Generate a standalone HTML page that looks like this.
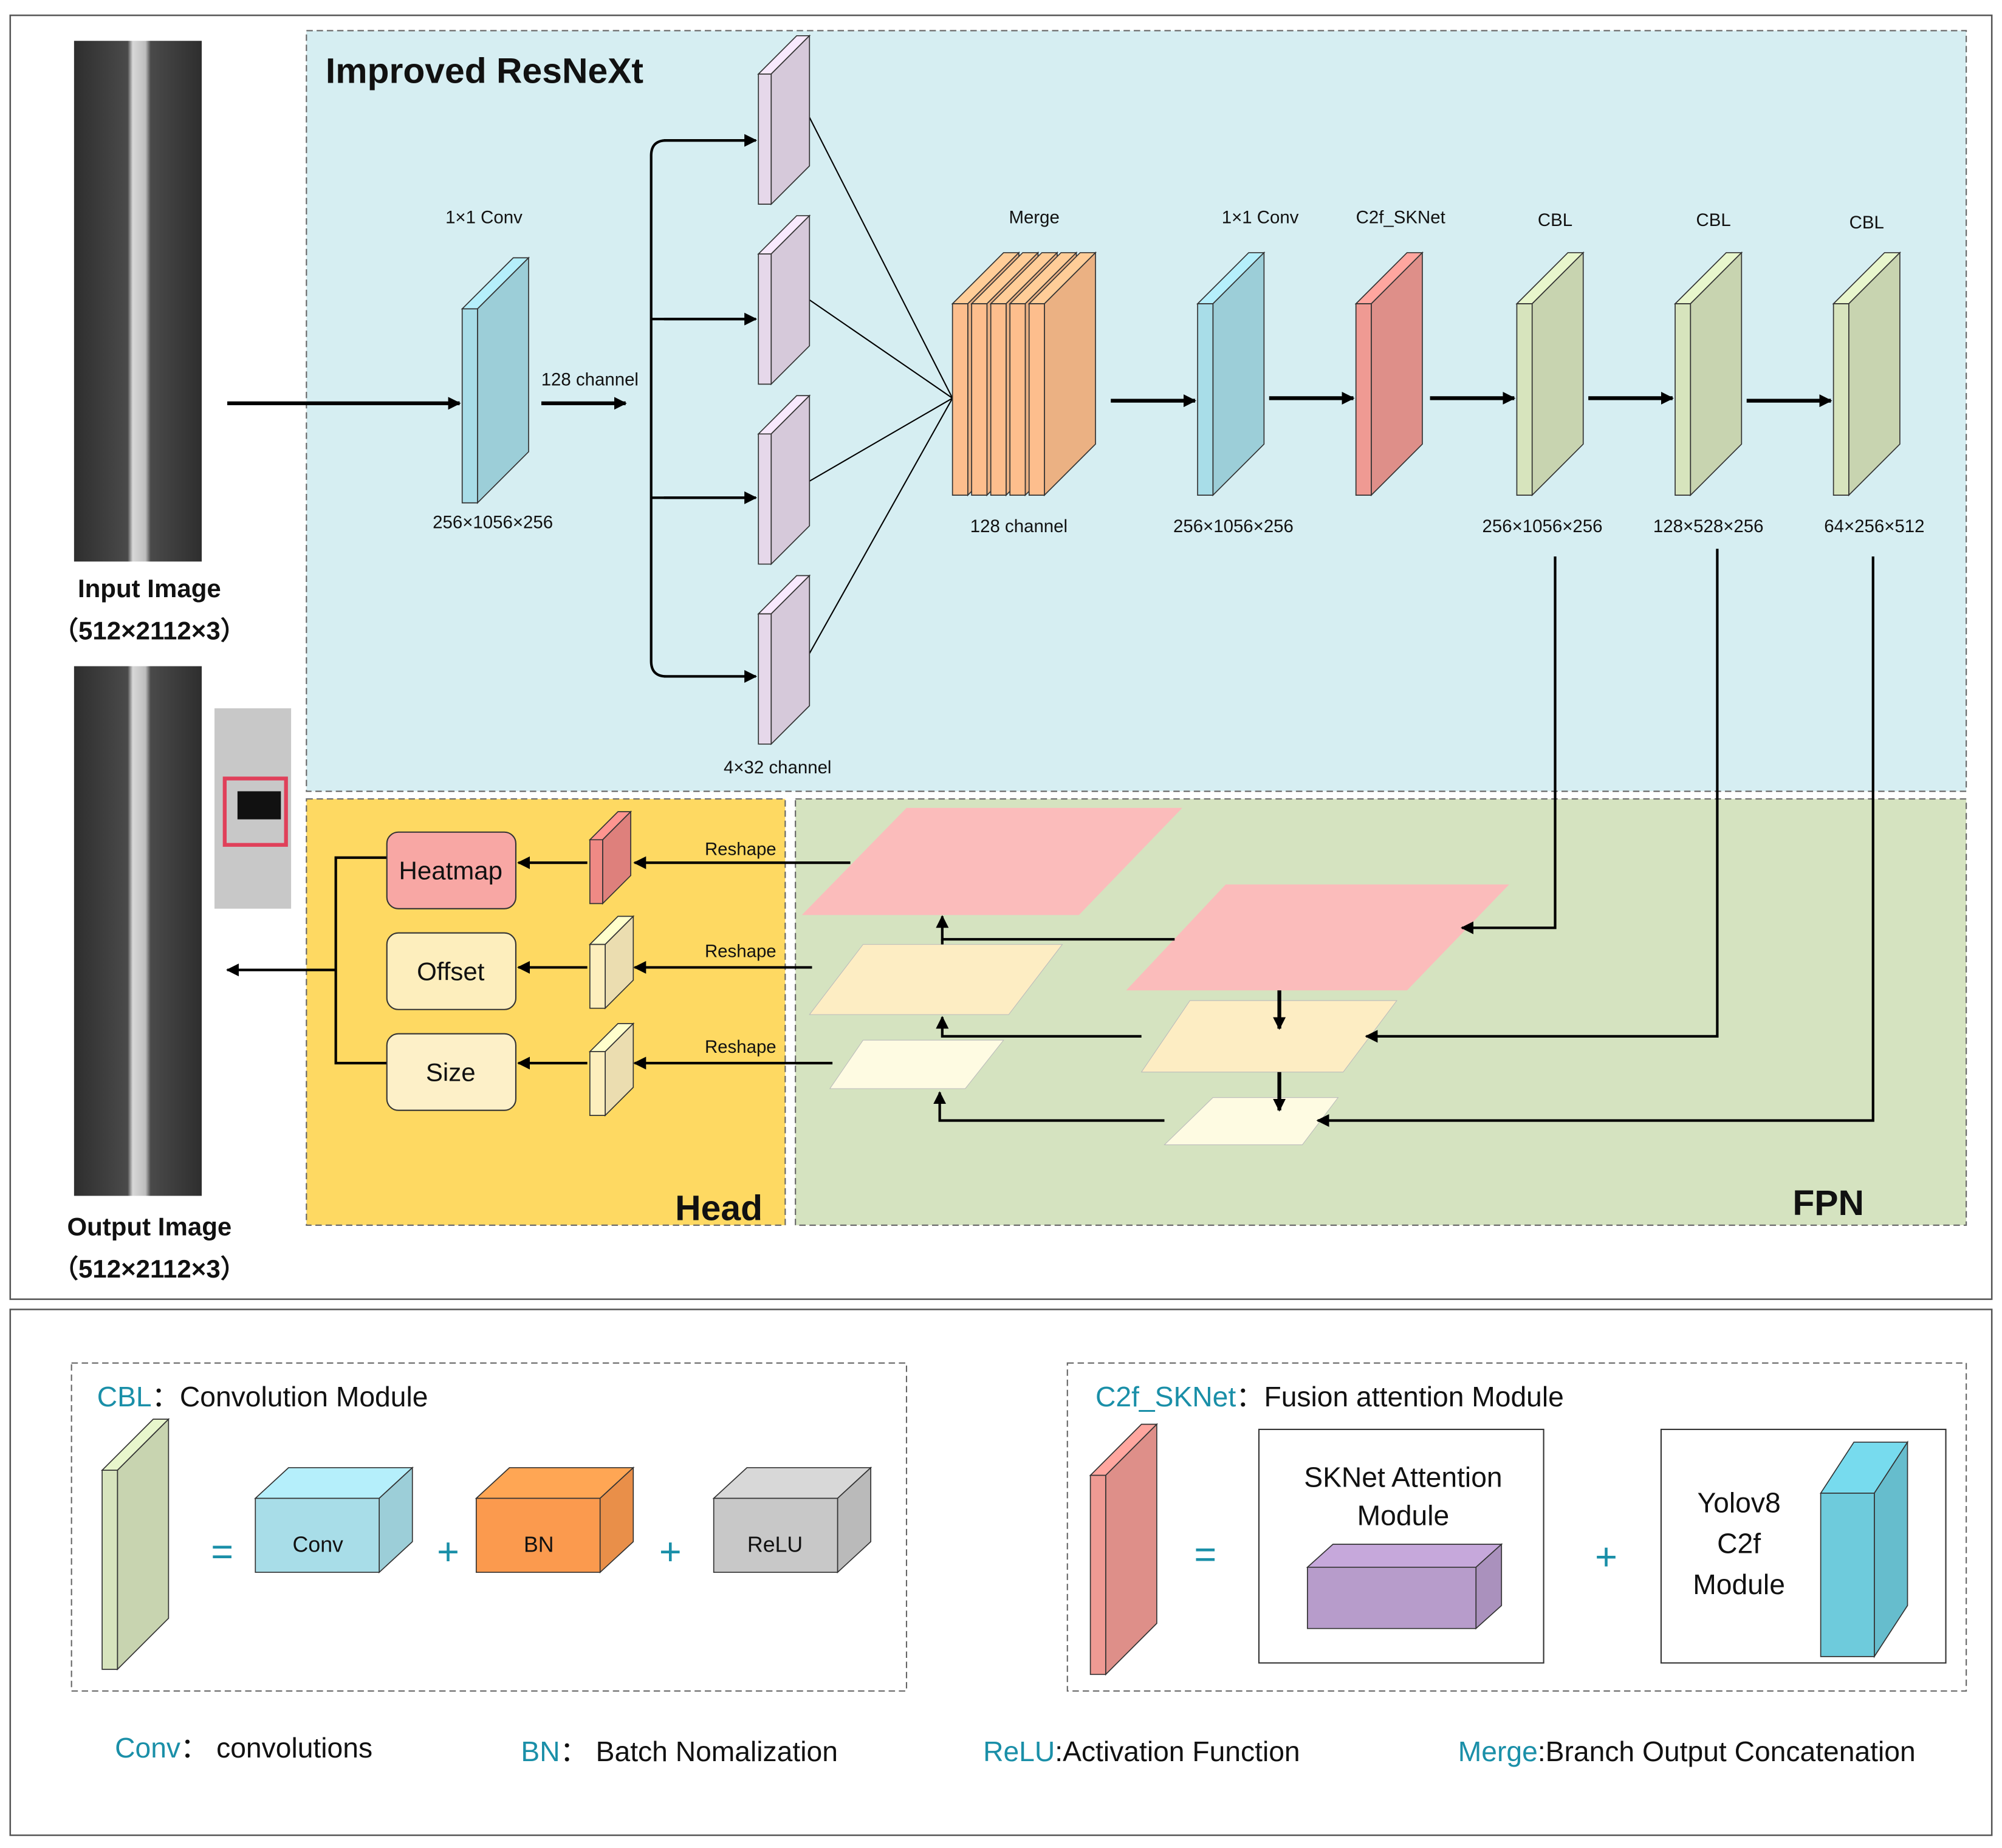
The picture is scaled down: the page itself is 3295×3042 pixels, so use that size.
<!DOCTYPE html>
<html><head><meta charset="utf-8"><style>
html,body{margin:0;padding:0;background:#fff}
svg{display:block}
text{font-family:"Liberation Sans","DejaVu Sans",sans-serif;fill:#111}
.s{font-size:14px}
.b{font-weight:bold}
.t{fill:#1a8fa8}
</style></head><body>
<svg id="sv" xmlns="http://www.w3.org/2000/svg" width="3295" height="3042" viewBox="0 0 1568 1448" preserveAspectRatio="none">
<defs>
<marker id="a" markerWidth="10" markerHeight="10" refX="9" refY="5" orient="auto" markerUnits="userSpaceOnUse"><path d="M0,0 L10,5 L0,10 z" fill="#000"/></marker>
<linearGradient id="rail" x1="0" x2="1"><stop offset="0" stop-color="#2e2e2e"/><stop offset="0.42" stop-color="#4a4a4a"/><stop offset="0.46" stop-color="#d8d8d8"/><stop offset="0.56" stop-color="#bdbdbd"/><stop offset="0.6" stop-color="#4a4a4a"/><stop offset="1" stop-color="#2e2e2e"/></linearGradient>
</defs>
<rect x="8" y="12" width="1552" height="1006" fill="#fff" stroke="#555" stroke-width="1.2"/>
<rect x="8" y="1026" width="1552" height="412" fill="#fff" stroke="#555" stroke-width="1.2"/>
<rect x="240" y="24" width="1300" height="596" fill="#d6eef2" stroke="#666" stroke-dasharray="5,3"/>
<rect x="240" y="626" width="375" height="334" fill="#fed962" stroke="#666" stroke-dasharray="5,3"/>
<rect x="623" y="626" width="917" height="334" fill="#d5e3c0" stroke="#666" stroke-dasharray="5,3"/>

<rect x="58" y="32" width="100" height="408" fill="url(#rail)"/>
<rect x="58" y="522" width="100" height="415" fill="url(#rail)"/>
<rect x="168" y="555" width="60" height="157" fill="#c8c8c8"/>
<rect x="186" y="620" width="34" height="22" fill="#111"/>
<rect x="176" y="610" width="48" height="52" fill="none" stroke="#e0405a" stroke-width="3"/>

<text x="117" y="468" text-anchor="middle" class="b" font-size="20">Input Image</text>
<text x="117" y="501" text-anchor="middle" class="b" font-size="20">（512×2112×3）</text>
<text x="117" y="968" text-anchor="middle" class="b" font-size="20">Output Image</text>
<text x="117" y="1001" text-anchor="middle" class="b" font-size="20">（512×2112×3）</text>
<text x="255" y="65" class="b" font-size="28">Improved ResNeXt</text>
<text x="563" y="956" text-anchor="middle" class="b" font-size="28">Head</text>
<text x="1432" y="952" text-anchor="middle" class="b" font-size="28">FPN</text>

<g class="s" text-anchor="middle">
<text x="379" y="175">1×1 Conv</text>
<text x="386" y="414">256×1056×256</text>
<text x="462" y="302">128 channel</text>
<text x="609" y="606">4×32 channel</text>
<text x="810" y="175">Merge</text>
<text x="798" y="417">128 channel</text>
<text x="987" y="175">1×1 Conv</text>
<text x="1097" y="175">C2f_SKNet</text>
<text x="1218" y="177">CBL</text><text x="1342" y="177">CBL</text><text x="1462" y="179">CBL</text>
<text x="966" y="417">256×1056×256</text>
<text x="1208" y="417">256×1056×256</text>
<text x="1338" y="417">128×528×256</text>
<text x="1468" y="417">64×256×512</text>
<text x="580" y="670">Reshape</text><text x="580" y="750">Reshape</text><text x="580" y="825">Reshape</text>
</g>

<g stroke="#000" stroke-width="3" fill="none" marker-end="url(#a)">
<line x1="178" y1="316" x2="360" y2="316"/>
<line x1="424" y1="316" x2="490" y2="316"/>
<line x1="870" y1="314" x2="936" y2="314"/>
<line x1="994" y1="312" x2="1060" y2="312"/>
<line x1="1120" y1="312" x2="1186" y2="312"/>
<line x1="1244" y1="312" x2="1310" y2="312"/>
<line x1="1368" y1="314" x2="1434" y2="314"/>
</g>
<g stroke="#000" stroke-width="2" fill="none">
<path d="M592,110 H522 Q510,110 510,122 V518 Q510,530 522,530 H592"/>
<path d="M510,250 H592 M510,390 H592"/>
<path d="M634,92 L746,312 M634,235 L746,312 M634,377 L746,312 M634,512 L746,312" stroke-width="1"/>
</g>
<g stroke="#000" stroke-width="2" fill="none" marker-end="url(#a)">
<line x1="520" y1="110" x2="592" y2="110"/><line x1="520" y1="250" x2="592" y2="250"/><line x1="520" y1="390" x2="592" y2="390"/><line x1="520" y1="530" x2="592" y2="530"/>
</g>

<!-- FPN -->
<polygon points="710,633 926,633 845,717 628,717" fill="#fbbcbb"/>
<polygon points="960,693 1182,693 1102,776 882,776" fill="#fbbcbb"/>
<polygon points="676,740 832,740 790,795 634,795" fill="#fdedc3" stroke="#bbb" stroke-width="0.5"/>
<polygon points="932,784 1094,784 1052,840 894,840" fill="#fdedc3" stroke="#bbb" stroke-width="0.5"/>
<polygon points="676,815 786,815 756,853 650,853" fill="#fefbe2" stroke="#bbb" stroke-width="0.5"/>
<polygon points="950,860 1048,860 1020,897 912,897" fill="#fefbe2" stroke="#bbb" stroke-width="0.5"/>
<g stroke="#000" stroke-width="2" fill="none">
<polyline points="1218,436 1218,727 1145,727" marker-end="url(#a)"/>
<polyline points="1345,430 1345,812 1070,812" marker-end="url(#a)"/>
<polyline points="1467,436 1467,878 1032,878" marker-end="url(#a)"/>
<polyline points="920,736 738,736 738,718" marker-end="url(#a)"/>
<polyline points="894,812 738,812 738,797" marker-end="url(#a)"/>
<polyline points="912,878 736,878 736,856" marker-end="url(#a)"/>
<line x1="738" y1="740" x2="738" y2="736"/>
<line x1="1002" y1="776" x2="1002" y2="806" stroke-width="3" marker-end="url(#a)"/>
<line x1="1002" y1="840" x2="1002" y2="870" stroke-width="3" marker-end="url(#a)"/>
<line x1="666" y1="676" x2="497" y2="676" marker-end="url(#a)"/>
<line x1="636" y1="758" x2="497" y2="758" marker-end="url(#a)"/>
<line x1="652" y1="833" x2="497" y2="833" marker-end="url(#a)"/>
<line x1="460" y1="676" x2="406" y2="676" marker-end="url(#a)"/>
<line x1="460" y1="758" x2="406" y2="758" marker-end="url(#a)"/>
<line x1="460" y1="833" x2="406" y2="833" marker-end="url(#a)"/>
<polyline points="303,672 263,672 263,833 303,833"/>
<line x1="263" y1="760" x2="178" y2="760" marker-end="url(#a)"/>
</g>
<rect x="303" y="652" width="101" height="60" rx="9" fill="#f8a7a4" stroke="#333"/>
<rect x="303" y="731" width="101" height="60" rx="9" fill="#fdeebd" stroke="#333"/>
<rect x="303" y="810" width="101" height="60" rx="9" fill="#fdf0c8" stroke="#333"/>
<g font-size="20" text-anchor="middle"><text x="353" y="689">Heatmap</text><text x="353" y="768">Offset</text><text x="353" y="847">Size</text></g>

<!-- bottom legend -->
<rect x="56" y="1068" width="654" height="257" fill="none" stroke="#666" stroke-dasharray="5,3"/>
<rect x="836" y="1068" width="704" height="257" fill="none" stroke="#666" stroke-dasharray="5,3"/>
<rect x="986" y="1120" width="223" height="183" fill="#fff" stroke="#333"/>
<rect x="1301" y="1120" width="223" height="183" fill="#fff" stroke="#333"/>
<g font-size="22">
<text x="76" y="1102"><tspan class="t">CBL</tspan>：Convolution Module</text>
<text x="858" y="1102"><tspan class="t">C2f_SKNet</tspan>：Fusion attention Module</text>
<text x="90" y="1377"><tspan class="t">Conv</tspan>：  convolutions</text>
<text x="408" y="1380"><tspan class="t">BN</tspan>：  Batch Nomalization</text>
<text x="770" y="1380"><tspan class="t">ReLU</tspan>:Activation Function</text>
<text x="1142" y="1380"><tspan class="t">Merge</tspan>:Branch Output Concatenation</text>
<text x="1099" y="1165" text-anchor="middle">SKNet Attention</text>
<text x="1099" y="1195" text-anchor="middle">Module</text>
<text x="1362" y="1185" text-anchor="middle">Yolov8</text>
<text x="1362" y="1217" text-anchor="middle">C2f</text>
<text x="1362" y="1249" text-anchor="middle">Module</text>
</g>
<g font-size="30" fill="#1a8fa8" text-anchor="middle">
<text x="174" y="1226" class="t">=</text><text x="351" y="1226" class="t">+</text><text x="525" y="1226" class="t">+</text>
<text x="944" y="1228" class="t">=</text><text x="1258" y="1230" class="t">+</text>
</g>
<g id="pr"></g>
<g font-size="17" text-anchor="middle"><text x="249" y="1216">Conv</text><text x="422" y="1216">BN</text><text x="607" y="1216">ReLU</text></g>
</svg>
<script>
var g=document.getElementById('pr'),NS='http://www.w3.org/2000/svg';
function poly(p,f){var e=document.createElementNS(NS,'polygon');e.setAttribute('points',p);e.setAttribute('fill',f);e.setAttribute('stroke','#333');e.setAttribute('stroke-width','0.8');g.appendChild(e);}
function shade(c,k){var n=parseInt(c.slice(1),16),r=n>>16,gg=(n>>8)&255,b=n&255;r=Math.round(r*k);gg=Math.round(gg*k);b=Math.round(b*k);return 'rgb('+Math.min(255,r)+','+Math.min(255,gg)+','+Math.min(255,b)+')';}
function P(x,y,w,h,dx,dy,f){
 poly([x,y+dy,x+dx,y,x+dx+w,y,x+w,y+dy].join(','),shade(f,1.08));
 poly([x+w,y+dy,x+w+dx,y,x+w+dx,y+h,x+w,y+dy+h].join(','),shade(f,0.93));
 poly([x,y+dy,x+w,y+dy,x+w,y+dy+h,x,y+dy+h].join(','),f);
}
P(362,202,12,152,40,40,'#a8dde8');
[28,169,310,451].forEach(function(y){P(594,y,10,102,30,30,'#e6d8ea');});
[746,761,776,791,806].forEach(function(x){P(x,198,12,150,40,40,'#fdbe8d');});
P(938,198,12,150,40,40,'#a8dde8');
P(1062,198,12,150,40,40,'#ef9a93');
[1188,1312,1436].forEach(function(x){P(x,198,12,150,40,40,'#d7e4bd');});
P(462,636,10,50,22,22,'#ef8a85');
P(462,718,12,50,22,22,'#fdeebd');
P(462,802,12,50,22,22,'#fdeebd');
P(80,1112,12,156,40,40,'#d7e4bd');
P(854,1116,12,156,40,40,'#ef9a93');
P(200,1150,97,58,26,24,'#a8dde8');
P(373,1150,97,58,26,24,'#fb9a4e');
P(559,1150,97,58,26,24,'#c8c8c8');
P(1024,1210,132,48,20,18,'#b79ccb');
P(1426,1130,42,128,26,40,'#6ecbdc');
</script>
</body></html>
